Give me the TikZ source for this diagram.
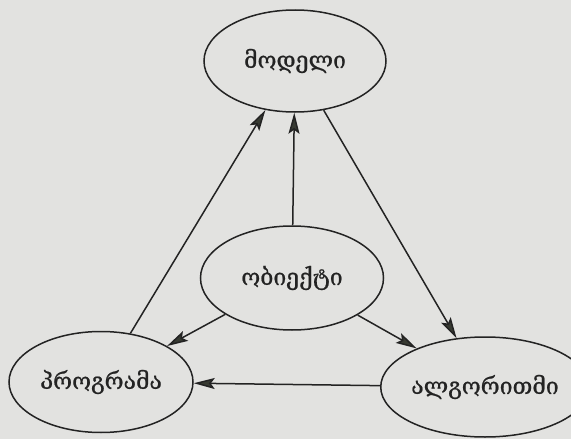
\documentclass[tikz,border=0pt]{standalone}
\usepackage{fontspec}
\newfontfamily\geo[FakeBold=0.8]{DejaVu Serif}
\usetikzlibrary{shapes.geometric,arrows.meta}
\definecolor{bgc}{RGB}{226,226,224}
\definecolor{linec}{RGB}{35,35,35}
\definecolor{tipc}{RGB}{55,58,50}
\begin{document}
\begin{tikzpicture}[x=1pt,y=-1pt,
  ell/.style={draw=linec, line width=1.5pt, ellipse, inner sep=0pt,
    font=\geo\fontsize{23}{26}\selectfont, text=linec},
  arr/.style={draw=linec, line width=1.5pt,
    -{Stealth[length=21pt,width=11pt,inset=4pt,fill=tipc]}}]
\fill[bgc] (0,0) rectangle (571,439);
\useasboundingbox (0,0) rectangle (571,439);
\node[ell, minimum width=182pt, minimum height=102pt] (model) at (295,61) {მოდელი};
\node[ell, minimum width=183pt, minimum height=104pt] (obj) at (292,278) {ობიექტი};
\node[ell, minimum width=184pt, minimum height=101pt] (prog) at (101,382) {პროგრამა};
\node[ell, minimum width=192pt, minimum height=100pt] (alg) at (485,387) {ალგორითმი};
\draw[arr] (prog) -- (model);
\draw[arr] (obj) -- (model);
\draw[arr] (model) -- (alg);
\draw[arr] (obj) -- (prog);
\draw[arr] (obj) -- (alg);
\draw[arr] (alg) -- (prog);
\end{tikzpicture}
\end{document}
